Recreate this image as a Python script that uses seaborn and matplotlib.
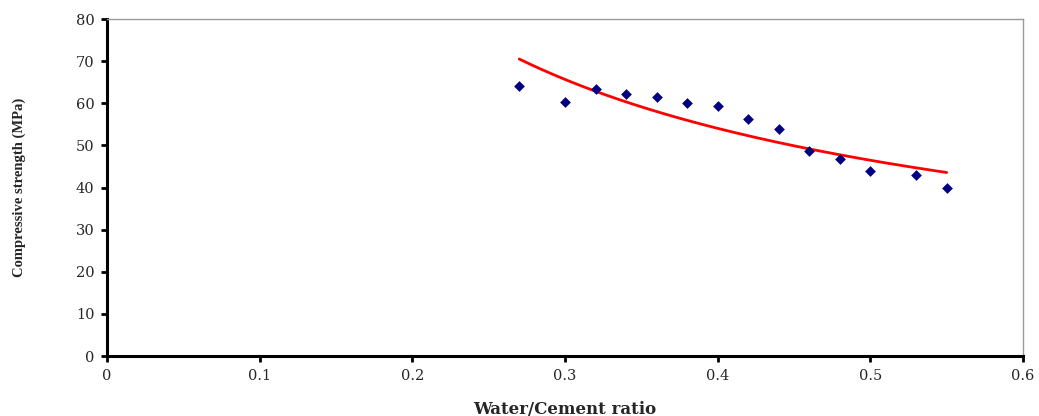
import numpy as np
import pandas as pd
import matplotlib
matplotlib.use("Agg")
import matplotlib.pyplot as plt
import seaborn as sns

wc_ratio = [0.27, 0.30, 0.32, 0.34, 0.36, 0.38, 0.40, 0.42, 0.44, 0.46, 0.48, 0.50, 0.53, 0.55]
strength = [64.0, 60.2, 63.3, 62.3, 61.5, 60.0, 59.3, 56.3, 53.8, 48.7, 46.8, 44.0, 42.9, 40.0]
x_ticks = [0, 0.1, 0.2, 0.3, 0.4, 0.5, 0.6]
y_ticks = [0, 10, 20, 30, 40, 50, 60, 70, 80]

df = pd.DataFrame({"wc": wc_ratio, "fc": strength})

# power trendline (Excel style): ln y = ln a + b ln x
b, lna = np.polyfit(np.log(df["wc"]), np.log(df["fc"]), 1)
xf = np.linspace(min(wc_ratio), max(wc_ratio), 200)
fit = pd.DataFrame({"wc": xf, "fc": np.exp(lna) * xf ** b})

sns.set_style("white")
plt.rcParams['font.family'] = ['DejaVu Serif']

fig = plt.figure(figsize=(10.39, 4.16), dpi=100)
ax = fig.add_axes([0.103, 0.1442, 0.8816, 0.8101])

sns.scatterplot(data=df, x="wc", y="fc", marker="D", s=30, color="#000080",
                edgecolor="#000080", linewidth=0, ax=ax, zorder=3)
sns.lineplot(data=fit, x="wc", y="fc", color="#ff0000", linewidth=2, ax=ax, zorder=2)

ax.set_xlim(0, 0.6)
ax.set_ylim(0, 80)
ax.set_xticks(x_ticks)
ax.set_xticklabels([f"{t:g}" for t in x_ticks])
ax.set_yticks(y_ticks)
ax.set_yticklabels([str(t) for t in y_ticks])
ax.tick_params(axis="both", which="major", direction="out", length=4, width=2,
               color="black", labelsize=10.5, pad=5, bottom=True, left=True)

for side in ["left", "bottom"]:
    ax.spines[side].set_color("black")
    ax.spines[side].set_linewidth(2.2)
for side in ["top", "right"]:
    ax.spines[side].set_visible(True)
    ax.spines[side].set_color("#999999")
    ax.spines[side].set_linewidth(1)

ax.set_xlabel("Water/Cement ratio", fontsize=12, fontweight="bold", labelpad=13)
ax.set_ylabel("Compressive strength (MPa)", fontsize=10.5, fontweight="bold",
              labelpad=36, family=["Liberation Serif"])
ax.grid(False)

fig.savefig("out.png", dpi=100)
